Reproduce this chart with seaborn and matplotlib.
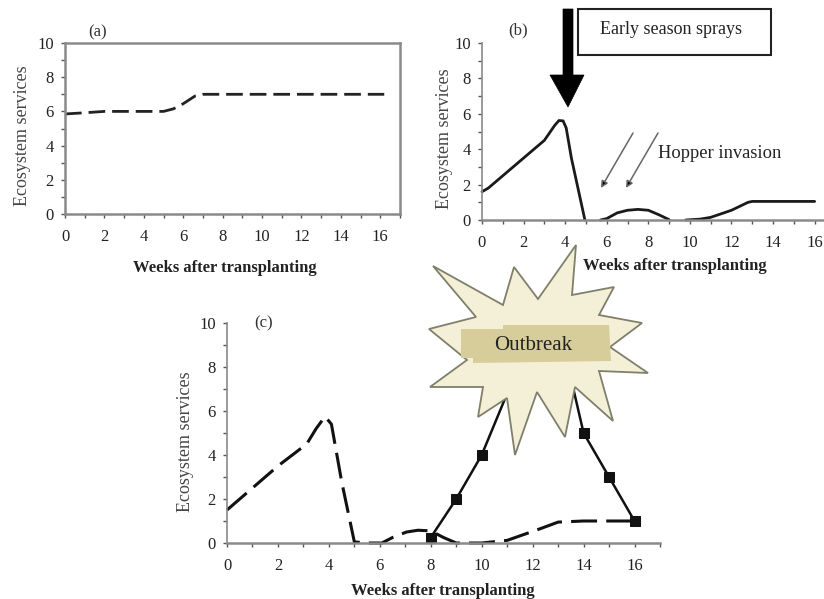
import matplotlib
matplotlib.use("Agg")
import matplotlib.pyplot as plt
from matplotlib.patches import Polygon, Rectangle
import pandas as pd
import seaborn as sns

W, H = 824, 599
sns.set_theme(style="white")
plt.rcParams["font.family"] = ["Liberation Serif", "DejaVu Serif"]

# (a)
a_weeks = [0, 1, 2, 3, 4, 5, 5.5, 6, 6.6, 7, 8, 9, 10, 11, 12, 13, 14, 15, 16.2]
a_values = [5.85, 5.92, 6.0, 6.0, 6.0, 6.0, 6.15, 6.45, 6.9, 7.0, 7.0, 7.0, 7.0, 7.0, 7.0, 7.0, 7.0, 7.0, 7.0]
# (b), three visible stretches
b1_weeks = [0, 0.3, 1, 2, 3, 3.5, 3.7, 3.9, 4.05, 4.3, 4.95]
b1_values = [1.6, 1.8, 2.5, 3.5, 4.5, 5.35, 5.62, 5.6, 5.2, 3.5, 0.0]
b2_weeks = [5.7, 6, 6.5, 7, 7.5, 8, 8.5, 9]
b2_values = [0.0, 0.08, 0.4, 0.55, 0.6, 0.55, 0.3, 0.02]
b3_weeks = [9.8, 10.5, 11, 12, 12.8, 13, 14, 15, 16]
b3_values = [0.0, 0.05, 0.15, 0.55, 1.0, 1.05, 1.05, 1.05, 1.05]
# (c) dashed
c_weeks = [0, 1, 2, 3.13, 3.5, 3.85, 4.1, 4.5, 5, 5.5, 6.08, 6.5, 7.05, 7.5, 8, 8.5, 9, 10, 11, 12.3, 13, 14, 15, 16]
c_values = [1.5, 2.5, 3.5, 4.5, 5.2, 5.75, 5.4, 2.8, 0.05, 0, 0, 0.25, 0.5, 0.58, 0.55, 0.25, 0, 0, 0.12, 0.65, 0.95, 1.0, 1.0, 1.0]
# (c) outbreak
o_weeks = [8, 9, 10, 11, 12, 13, 14, 15, 16]
o_values = [0.25, 2, 4, 6.8, 9, 10, 5, 3, 1]

x_ticks = list(range(0, 17, 2))
y_ticks = list(range(0, 11, 2))
x_label = "Weeks after transplanting"
y_label = "Ecosystem services"


def make_axes(left, right, top, bottom):
    return fig.add_axes([left / W, 1 - bottom / H, (right - left) / W, (bottom - top) / H])


def style(ax, xmax, xlab_px, ylab_px, box=False):
    ax.set_xlim(0, xmax)
    ax.set_ylim(0, 10)
    ax.set_xticks(x_ticks)
    ax.set_yticks(y_ticks)
    ax.set_xticks(range(0, int(xmax) + 1), minor=True)
    ax.set_yticks(range(0, 11), minor=True)
    ax.tick_params(axis="both", which="both", direction="out", length=3, width=1,
                   color="#555555", bottom=True, left=True, labelsize=12,
                   labelcolor="#222222")
    ax.tick_params(axis="x", which="major", pad=8)
    ax.tick_params(axis="y", which="major", pad=5)
    for name, sp in ax.spines.items():
        sp.set_color("#8a8a8a")
        sp.set_linewidth(1.8 if (box or name == "bottom") else 1.2)
        sp.set_visible(box or name in ("left", "bottom"))
    ax.patch.set_alpha(0)
    ax.set_xlabel(x_label, fontsize=12, color="#222222", fontweight="bold")
    ax.set_ylabel(y_label, fontsize=13, color="#444444")
    to_axes = ax.transAxes.inverted()
    for axis, (px, py) in ((ax.xaxis, xlab_px), (ax.yaxis, ylab_px)):
        axis.set_label_coords(*to_axes.transform((px, H - py)))


fig = plt.figure(figsize=(W / 100, H / 100), dpi=100)

ax_a = make_axes(65, 400, 43, 214)
sns.lineplot(data=pd.DataFrame({"w": a_weeks, "v": a_values}), x="w", y="v", ax=ax_a,
             color="#222222", lw=2, errorbar=None, linestyle=(0, (6, 2.5)), clip_on=False)
style(ax_a, 17, (225, 260), (31, 136), box=True)

ax_b = make_axes(482, 824, 43, 220)
for wk, val in ((b1_weeks, b1_values), (b2_weeks, b2_values), (b3_weeks, b3_values)):
    sns.lineplot(data=pd.DataFrame({"w": wk, "v": val}), x="w", y="v", ax=ax_b,
                 color="#1a1a1a", lw=2, errorbar=None, clip_on=False)
style(ax_b, 16.45, (675, 258), (453, 139))

ax_c = make_axes(227, 660, 323, 543)
sns.lineplot(data=pd.DataFrame({"w": c_weeks, "v": c_values}), x="w", y="v", ax=ax_c,
             color="#111111", lw=2.2, errorbar=None, linestyle=(0, (8.5, 3)), clip_on=False)
sns.lineplot(data=pd.DataFrame({"w": o_weeks, "v": o_values}), x="w", y="v", ax=ax_c,
             color="#111111", lw=1.8, errorbar=None, marker="s", ms=6.5, mec="#111111", clip_on=False)
style(ax_c, 17, (443, 583), (194, 442))

# Annotation overlay in pixel coordinates
ov = fig.add_axes([0, 0, 1, 1], zorder=10)
ov.set_xlim(0, W)
ov.set_ylim(H, 0)
ov.axis("off")

for label, px, py in (("(a)", 98, 32), ("(b)", 518, 30), ("(c)", 264, 323)):
    ov.text(px, py, label, fontsize=12, ha="center", va="center", color="#333333")

star = [(433, 266), (503, 305), (514, 267), (538, 299), (576, 245), (572, 295), (614, 287),
        (599, 315), (642, 323), (610, 347), (648, 373), (599, 371), (613, 421), (575, 387),
        (565, 437), (537, 392), (515, 455), (507, 398), (478, 417), (483, 387), (430, 387),
        (467, 360), (429, 329), (476, 317)]
ov.add_patch(Polygon(star, closed=True, fc="#f4f0d8", ec="#7f7f6a", lw=1.3))
ov.add_patch(Polygon([(461, 329), (503, 329), (503, 325), (609, 325), (611, 361), (473, 363),
                      (473, 358), (461, 358)], closed=True, fc="#d6cd9a", ec="none"))
ov.text(533, 345, "Outbreak", fontsize=15, ha="center", va="center", color="#222222")

# Big spray arrow
ov.add_patch(Polygon([(563, 9), (573, 9), (573, 75), (584, 75), (568, 107), (550, 75), (563, 75)],
                     closed=True, fc="black", ec="black", lw=0.5))
ov.add_patch(Rectangle((578, 9), 193, 46, fc="white", ec="#222222", lw=1.5))
ov.text(600, 30, "Early season sprays", fontsize=13, ha="left", va="center", color="#222222")

# Hopper arrows
for tail, head in [((633, 133), (601, 188)), ((658, 133), (626, 188))]:
    ov.annotate("", xy=head, xytext=tail,
                arrowprops=dict(arrowstyle="-|>", ec="#666666", fc="black", lw=1.1,
                                mutation_scale=10, shrinkA=0, shrinkB=0))
ov.text(658, 154, "Hopper invasion", fontsize=13.3, ha="left", va="center", color="#222222")

fig.savefig("out.png", dpi=100, facecolor="white")
